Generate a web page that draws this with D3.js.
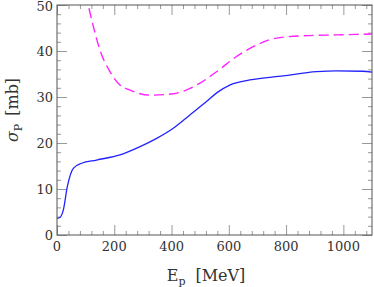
<!DOCTYPE html>
<html>
<head>
<meta charset="utf-8">
<script src="https://cdn.jsdelivr.net/npm/d3@7"></script>
<style>
  html, body { margin: 0; padding: 0; background: #fff; }
  svg { display: block; }
  text { font-family: "DejaVu Serif", serif; fill: #333; }
</style>
</head>
<body>
<script>
// total cross section
const blueE = [0, 10, 22, 36, 57, 86, 138, 220, 290, 348, 406, 464, 522, 560, 603, 673, 790, 906, 975, 1068, 1100];
const blueSigma = [3.6, 3.8, 5.4, 10.5, 14.5, 15.6, 16.3, 17.4, 19.2, 21.0, 23.2, 26.1, 29.0, 31.0, 32.6, 33.7, 34.6, 35.5, 35.7, 35.6, 35.4];

const magentaE = [100, 109, 127, 150, 185, 220, 255, 324, 406, 475, 499, 557, 627, 697, 766, 859, 976, 1100];
const magentaSigma = [52.5, 50, 45.3, 40.2, 35.5, 32.6, 31.5, 30.4, 30.7, 32.2, 33.0, 35.5, 38.8, 41.3, 42.8, 43.3, 43.5, 43.7];

const xTickLabels = [0, 200, 400, 600, 800, 1000];
const yTickLabels = [0, 10, 20, 30, 40, 50];

const width = 374, height = 287;
const margin = { left: 57, right: 2, top: 5, bottom: 52 };

const x = d3.scaleLinear().domain([0, 1100]).range([margin.left, width - margin.right]);
const y = d3.scaleLinear().domain([0, 50]).range([height - margin.bottom, margin.top]);

const svg = d3.select('body').append('svg')
  .attr('width', width)
  .attr('height', height);

svg.append('defs').append('clipPath').attr('id', 'plot-clip')
  .append('rect')
  .attr('x', x(0)).attr('y', y(50))
  .attr('width', x(1100) - x(0)).attr('height', y(0) - y(50));

// ticks on all four sides, pointing in
const tickColor = '#999';
const xMinor = d3.range(0, 1101, 40).filter(v => v % 200 !== 0);
const yMinor = d3.range(0, 51, 2).filter(v => v % 10 !== 0);

function tickAxis(axisFn, scale, values, size, transform) {
  const g = svg.append('g')
    .attr('transform', transform)
    .call(axisFn(scale).tickValues(values).tickSize(size).tickFormat(''));
  g.select('.domain').remove();
  g.selectAll('line').attr('stroke', tickColor).attr('stroke-width', 1);
  return g;
}

tickAxis(d3.axisBottom, x, xTickLabels, -10, `translate(0,${y(0)})`);
tickAxis(d3.axisBottom, x, xMinor, -4, `translate(0,${y(0)})`);
tickAxis(d3.axisTop, x, xTickLabels, -10, `translate(0,${y(50)})`);
tickAxis(d3.axisTop, x, xMinor, -4, `translate(0,${y(50)})`);
tickAxis(d3.axisLeft, y, yTickLabels, -10, `translate(${x(0)},0)`);
tickAxis(d3.axisLeft, y, yMinor, -4, `translate(${x(0)},0)`);
tickAxis(d3.axisRight, y, yTickLabels, -10, `translate(${x(1100)},0)`);
tickAxis(d3.axisRight, y, yMinor, -4, `translate(${x(1100)},0)`);

// frame
svg.append('rect')
  .attr('x', x(0)).attr('y', y(50))
  .attr('width', x(1100) - x(0)).attr('height', y(0) - y(50))
  .attr('fill', 'none')
  .attr('stroke', '#555')
  .attr('stroke-width', 1);

// tick labels
svg.append('g').selectAll('text')
  .data(xTickLabels)
  .join('text')
  .attr('x', d => x(d))
  .attr('y', y(0) + 16)
  .attr('text-anchor', 'middle')
  .style('font-size', '13px')
  .text(d => d);

// the top label sits right at the edge, keep it just inside
svg.append('g').selectAll('text')
  .data(yTickLabels)
  .join('text')
  .attr('x', x(0) - 4)
  .attr('y', d => Math.max(y(d) + 4.7, 11))
  .attr('text-anchor', 'end')
  .style('font-size', '13px')
  .text(d => d);

// axis titles
const xt = svg.append('text')
  .attr('x', 206)
  .attr('y', 281)
  .attr('text-anchor', 'middle')
  .style('font-size', '16px');
xt.append('tspan').text('E');
xt.append('tspan').attr('dy', 4).style('font-size', '11px').text('p');
xt.append('tspan').attr('dy', -4).attr('dx', 10).text('[MeV]');

const yt = svg.append('text')
  .attr('transform', 'translate(18,110) rotate(-90)')
  .attr('text-anchor', 'middle')
  .style('font-size', '16px');
yt.append('tspan').style('font-style', 'italic').text('σ');
yt.append('tspan').attr('dy', 4).style('font-size', '11px').text('P');
yt.append('tspan').attr('dy', -4).attr('dx', 8).text('[mb]');

// curves
const line = d3.line()
  .x(d => x(d[0]))
  .y(d => y(d[1]))
  .curve(d3.curveMonotoneX);

const plot = svg.append('g').attr('clip-path', 'url(#plot-clip)');

plot.append('path')
  .datum(magentaE.map((e, i) => [e, magentaSigma[i]]))
  .attr('d', line)
  .attr('fill', 'none')
  .attr('stroke', '#ff22ff')
  .attr('stroke-width', 1.4)
  .attr('stroke-dasharray', '10,5');

plot.append('path')
  .datum(blueE.map((e, i) => [e, blueSigma[i]]))
  .attr('d', line)
  .attr('fill', 'none')
  .attr('stroke', '#2222ff')
  .attr('stroke-width', 1.3);
</script>
</body>
</html>
